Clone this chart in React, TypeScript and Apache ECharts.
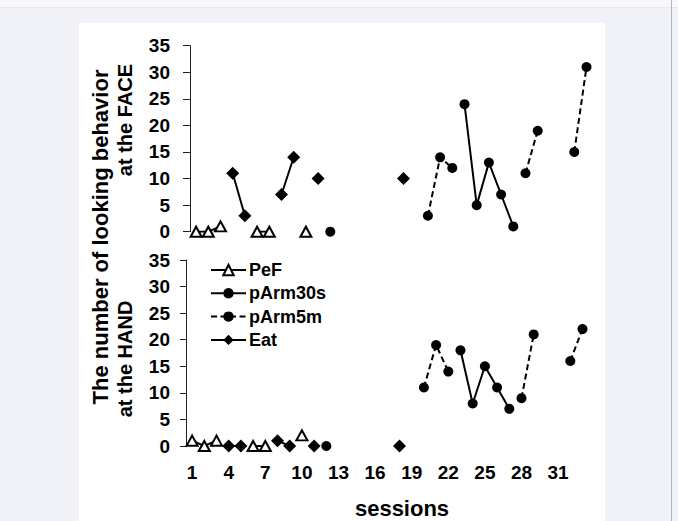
import React, { useEffect, useRef } from "react";
import * as echarts from "echarts";

const N = null;

const sessions = [
  "1", "2", "3", "4", "5", "6", "7", "8", "9", "10", "11",
  "12", "13", "14", "15", "16", "17", "18", "19", "20", "21", "22",
  "23", "24", "25", "26", "27", "28", "29", "30", "31", "32", "33",
];

// FACE panel (top)
const facePeF = [0, 0, 1, N, N, 0, 0, N, N, 0, N, N, N, N, N, N, N, N, N, N, N, N, N, N, N, N, N, N, N, N, N, N, N];
const faceArm30s = [N, N, N, N, N, N, N, N, N, N, N, 0, N, N, N, N, N, N, N, N, N, N, 24, 5, 13, 7, 1, N, N, N, N, N, N];
const faceArm5m = [N, N, N, N, N, N, N, N, N, N, N, N, N, N, N, N, N, N, N, 3, 14, 12, N, N, N, N, N, 11, 19, N, N, 15, 31];
const faceEat = [N, N, N, 11, 3, N, N, 7, 14, N, 10, N, N, N, N, N, N, 10, N, N, N, N, N, N, N, N, N, N, N, N, N, N, N];

// HAND panel (bottom)
const handPeF = [1, 0, 1, N, N, 0, 0, N, N, 2, N, N, N, N, N, N, N, N, N, N, N, N, N, N, N, N, N, N, N, N, N, N, N];
const handArm30s = [N, N, N, N, N, N, N, N, N, N, N, 0, N, N, N, N, N, N, N, N, N, N, 18, 8, 15, 11, 7, N, N, N, N, N, N];
const handArm5m = [N, N, N, N, N, N, N, N, N, N, N, N, N, N, N, N, N, N, N, 11, 19, 14, N, N, N, N, N, 9, 21, N, N, 16, 22];
const handEat = [N, N, N, 0, 0, N, N, 1, 0, N, 0, N, N, N, N, N, N, 0, N, N, N, N, N, N, N, N, N, N, N, N, N, N, N];

const seriesNames = ["PeF", "pArm30s", "pArm5m", "Eat"];

const FONT = "'Liberation Sans', Arial, sans-serif";

export default function App() {
  const ref = useRef<HTMLDivElement>(null);

  useEffect(() => {
    if (!ref.current) return;
    const chart = echarts.init(ref.current, null, { renderer: "svg" });

    const styleFor = (name: string) => {
      if (name === "PeF")
        return {
          symbol: "triangle",
          symbolSize: [11, 10],
          itemStyle: { color: "#fff", borderColor: "#000", borderWidth: 2 },
          lineStyle: { color: "#000", width: 2 },
        };
      if (name === "pArm30s")
        return {
          symbol: "circle",
          symbolSize: 10,
          itemStyle: { color: "#000" },
          lineStyle: { color: "#000", width: 2 },
        };
      if (name === "pArm5m")
        return {
          symbol: "circle",
          symbolSize: 10,
          itemStyle: { color: "#000" },
          lineStyle: { color: "#000", width: 2, type: [6, 3.5] },
        };
      return {
        symbol: "diamond",
        symbolSize: 13,
        itemStyle: { color: "#000" },
        lineStyle: { color: "#000", width: 2 },
      };
    };

    const mk = (name: string, data: (number | null)[], idx: number) => ({
      name,
      type: "line",
      xAxisIndex: idx,
      yAxisIndex: idx,
      data,
      connectNulls: false,
      showSymbol: true,
      showAllSymbol: true,
      ...styleFor(name),
    });

    const labelStyle = {
      color: "#000",
      fontWeight: "bold",
      fontSize: 19,
      fontFamily: FONT,
    };

    const yAxisBase = (idx: number, margin: number, tickLen: number) => ({
      gridIndex: idx,
      type: "value",
      min: 0,
      max: 35,
      interval: 5,
      splitLine: { show: false },
      axisLine: { show: true, lineStyle: { color: "#222", width: 1 } },
      axisTick: { show: true, length: tickLen, lineStyle: { color: "#222", width: 1 } },
      axisLabel: { ...labelStyle, margin },
    });

    const vText = (text: string, x: number, y: number, size: number) => ({
      type: "text",
      x,
      y,
      rotation: Math.PI / 2,
      style: {
        text,
        fill: "#000",
        font: `bold ${size}px ${FONT}`,
        align: "center",
        verticalAlign: "middle",
      },
    });

    chart.setOption({
      animation: false,
      backgroundColor: "transparent",
      grid: [
        { left: 190, top: 45.7, width: 402.6, height: 186 },
        { left: 186, top: 260, width: 402.6, height: 186 },
      ],
      xAxis: [
        { gridIndex: 0, type: "category", data: sessions, boundaryGap: true, show: false },
        {
          gridIndex: 1,
          type: "category",
          data: sessions,
          boundaryGap: true,
          axisLine: { show: false },
          axisTick: { show: false },
          axisLabel: { ...labelStyle, interval: 2, margin: 17 },
        },
      ],
      yAxis: [yAxisBase(0, 20, 7), yAxisBase(1, 16, 6)],
      legend: {
        orient: "vertical",
        left: 210,
        top: 261,
        padding: 0,
        itemWidth: 35,
        itemHeight: 13,
        itemGap: 5.3,
        selectedMode: false,
        data: seriesNames,
        textStyle: { ...labelStyle, fontSize: 18, padding: [0, 0, 0, -2] },
      },
      series: [
        mk("PeF", facePeF, 0),
        mk("pArm30s", faceArm30s, 0),
        mk("pArm5m", faceArm5m, 0),
        mk("Eat", faceEat, 0),
        mk("PeF", handPeF, 1),
        mk("pArm30s", handArm30s, 1),
        mk("pArm5m", handArm5m, 1),
        mk("Eat", handEat, 1),
      ],
      graphic: [
        vText("The number of looking behavior", 100, 237, 22),
        vText("at the FACE", 125, 120, 20),
        vText("at the HAND", 125, 359, 20),
        {
          type: "text",
          x: 402,
          y: 508,
          style: {
            text: "sessions",
            fill: "#000",
            font: `bold 22px ${FONT}`,
            align: "center",
            verticalAlign: "middle",
          },
        },
      ],
    });

    return () => chart.dispose();
  }, []);

  return (
    <div
      style={{
        position: "fixed",
        left: 0,
        top: 0,
        width: 678,
        height: 521,
        background: "#f1f2f7",
        overflow: "hidden",
      }}
    >
      <div
        style={{
          position: "absolute",
          left: 0,
          top: 0,
          width: 678,
          height: 7,
          background: "#f8f8fa",
          borderBottom: "1px solid #e8e8ec",
        }}
      />
      <div
        style={{
          position: "absolute",
          left: 79,
          top: 23,
          width: 526,
          height: 498,
          background: "#ffffff",
        }}
      />
      <div
        style={{
          position: "absolute",
          left: 671,
          top: 0,
          width: 1,
          height: 521,
          background: "#b4b4bc",
        }}
      />
      <div
        ref={ref}
        style={{ position: "absolute", left: 0, top: 0, width: 678, height: 521 }}
      />
    </div>
  );
}
